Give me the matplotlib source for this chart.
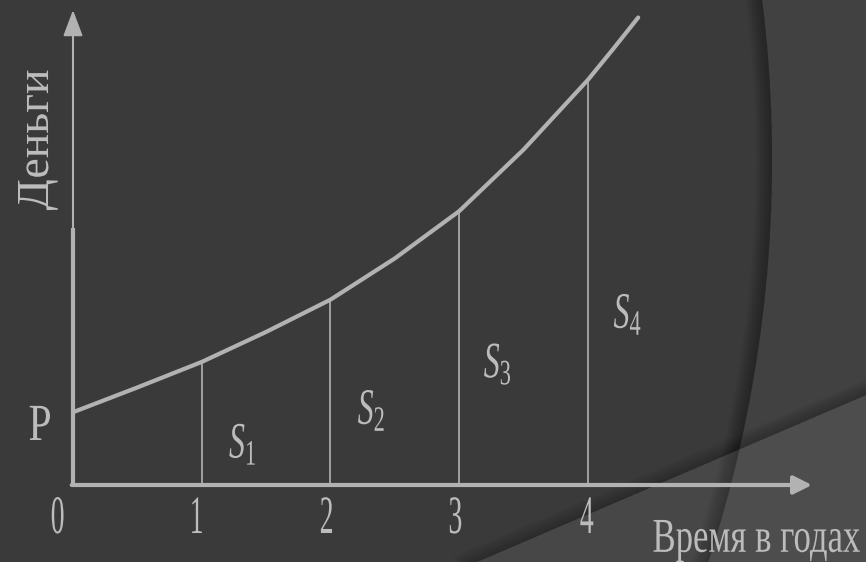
import matplotlib
matplotlib.use('Agg')
import matplotlib.pyplot as plt
from matplotlib.patches import Circle, Polygon
from matplotlib.patheffects import AbstractPathEffect
from matplotlib.transforms import Affine2D

# рост вклада по годам (P = 100)
years = [0, 0.5, 1, 1.5, 2, 2.5, 3, 3.5, 4, 4.2, 4.39]
money = [97, 130, 164, 204, 247, 302, 365, 447, 540, 582, 623]
tick_years = [0, 1, 2, 3, 4]
tick_labels = ['0', '1', '2', '3', '4']
area_labels = ['$S_1$', '$S_2$', '$S_3$', '$S_4$']

plt.rcParams['font.family'] = ['Liberation Serif', 'DejaVu Serif']
plt.rcParams['mathtext.fontset'] = 'custom'
plt.rcParams['mathtext.rm'] = 'Liberation Serif'
plt.rcParams['mathtext.it'] = 'Liberation Serif:italic'

BG = '#3a3a3a'
LINE = '#b2b2b2'
TXT = '#bcbcbc'


class Tall(AbstractPathEffect):
    """вытягивает глифы по вертикали"""
    def __init__(self, sy):
        super().__init__()
        self.sy = sy

    def draw_path(self, renderer, gc, tpath, affine, rgbFace=None):
        renderer.draw_path(gc, tpath, Affine2D().scale(1, self.sy) + affine, rgbFace)


fig = plt.figure(figsize=(8.66, 5.62), dpi=100, facecolor='#414141')

# фон: дуга и диагональная полоса
bg = fig.add_axes([0, 0, 1, 1], zorder=0)
bg.set_xlim(0, 866)
bg.set_ylim(562, 0)
bg.axis('off')
R = 1300
cx, cy = -528, 160
bg.add_patch(Circle((cx, cy), R, color=BG, lw=0))
for w in range(2, 18, 2):
    bg.add_patch(Circle((cx, cy), R - w / 2, fill=False, ec='black',
                        lw=w * 0.72, alpha=0.045))
bg.add_patch(Polygon([(477, 562), (866, 395), (866, 562)], closed=True,
                     fc='white', alpha=0.065, lw=0))
d = (0.919, -0.394)
n = (-0.394, -0.919)
for w in range(2, 16, 2):
    s = w / 2
    x0, y0 = 477 - 200 * d[0] + s * n[0], 562 - 200 * d[1] + s * n[1]
    x1, y1 = 866 + 200 * d[0] + s * n[0], 395 + 200 * d[1] + s * n[1]
    bg.plot([x0, x1], [y0, y1], color='black', lw=w * 0.72, alpha=0.035,
            solid_capstyle='butt')

ax = fig.add_axes([73 / 866, 77 / 562, 739 / 866, 475 / 562], zorder=1)
ax.set_xlim(0, 5.74)
ax.set_ylim(0, 633)
ax.axis('off')
ax.patch.set_visible(False)

# оси со стрелками
ax.plot([0, 0], [0, 343], color=LINE, lw=3, solid_capstyle='butt', clip_on=False)
ax.annotate('', xy=(0, 633), xytext=(0, 343), annotation_clip=False,
            arrowprops=dict(arrowstyle='-|>,head_length=1.6,head_width=0.6',
                            mutation_scale=10, color=LINE, lw=1.5,
                            shrinkA=0, shrinkB=0))
ax.annotate('', xy=(5.74, 0), xytext=(-0.01, 0), annotation_clip=False,
            arrowprops=dict(arrowstyle='-|>,head_length=1.1,head_width=0.55',
                            mutation_scale=10, color=LINE, lw=3,
                            shrinkA=0, shrinkB=0))

# кривая наращения и ординаты по годам
ax.plot(years, money, color=LINE, lw=3, solid_capstyle='round',
        solid_joinstyle='round', clip_on=False)
at = dict(zip(years, money))
ax.vlines(tick_years[1:], 0, [at[t] for t in tick_years[1:]], color=LINE, lw=1.2)

label_x = [-0.12, 0.96, 1.97, 2.97, 3.99]
for x, lab in zip(label_x, tick_labels):
    ax.text(x, -64, lab, color=TXT, fontsize=20, ha='center', va='baseline',
            path_effects=[Tall(1.95)])

area_pos = [(1.32, 36), (2.32, 81), (3.30, 143), (4.31, 209)]
for (x, y), lab in zip(area_pos, area_labels):
    ax.text(x, y, lab, color=TXT, fontsize=23, ha='center', va='baseline',
            path_effects=[Tall(1.6)])

ax.text(-0.256, 60, 'P', color=TXT, fontsize=30, ha='center', va='baseline',
        path_effects=[Tall(1.25)])
ax.text(5.31, -89, 'Время в годах', color=TXT, fontsize=25, ha='center',
        va='baseline', path_effects=[Tall(1.4)])
ax.text(-0.194, 460, 'Деньги', color=TXT, fontsize=33, rotation=90,
        rotation_mode='anchor', ha='center', va='baseline',
        path_effects=[Tall(1.0)])

fig.savefig('out.png', dpi=100, facecolor=fig.get_facecolor())
